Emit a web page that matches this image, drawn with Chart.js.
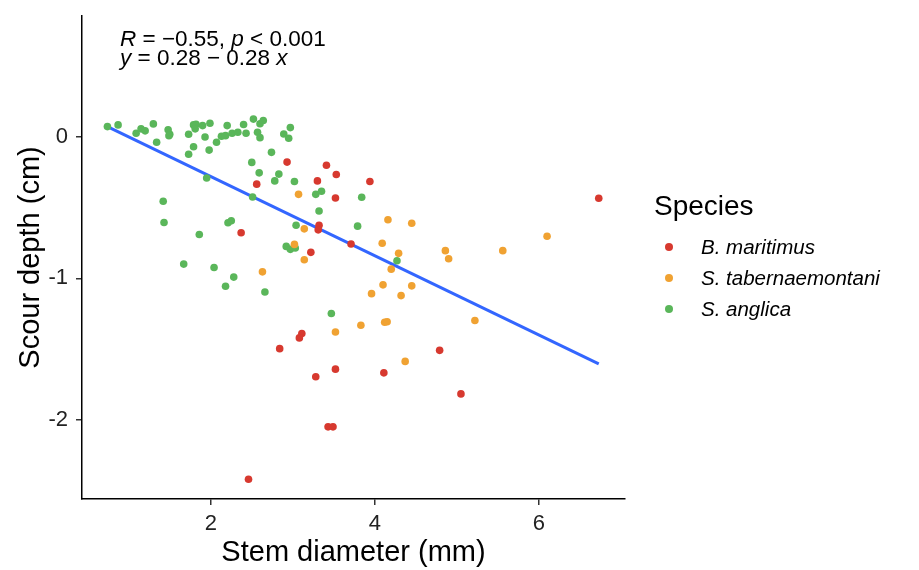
<!DOCTYPE html>
<html>
<head>
<meta charset="utf-8">
<script src="https://cdn.jsdelivr.net/npm/chart.js@4.4.1/dist/chart.umd.min.js"></script>
<style>
  body { margin: 0; background: #fff; }
  #wrap { width: 919px; height: 570px; }
</style>
</head>
<body>
<div id="wrap"><canvas id="scour" width="919" height="570"></canvas></div>
<script>
// species and colours
const speciesNames = ["B. maritimus", "S. tabernaemontani", "S. anglica"];
const speciesColors = ["#D7392F", "#F0A232", "#5AB65A"];

// stem diameter (mm) / scour depth (cm)
const maritimusX = [2.93, 2.56, 2.37, 3.41, 3.53, 3.30, 3.94, 3.52, 3.32, 3.31, 3.71, 3.22,
  3.11, 3.08, 2.84, 3.52, 3.28, 4.11, 4.79, 5.05, 3.43, 3.49, 2.46, 6.73];
const maritimusY = [-0.178, -0.334, -0.678, -0.20, -0.266, -0.311, -0.315, -0.432, -0.624, -0.657, -0.757, -0.816,
  -1.39, -1.421, -1.497, -1.642, -1.696, -1.668, -1.509, -1.817, -2.05, -2.05, -2.42, -0.434];

const tabernaeX = [3.07, 3.14, 3.02, 3.14, 2.63, 4.16, 4.45, 4.09, 4.29, 4.86, 4.90, 4.20,
  4.10, 4.45, 3.96, 4.32, 3.52, 3.83, 4.12, 4.15, 5.22, 4.37, 6.10, 5.56];
const tabernaeY = [-0.406, -0.65, -0.76, -0.868, -0.954, -0.586, -0.61, -0.752, -0.823, -0.804, -0.861, -0.935,
  -1.046, -1.053, -1.108, -1.122, -1.379, -1.331, -1.31, -1.307, -1.298, -1.587, -0.702, -0.804];

const anglicaX = [0.74, 0.87, 1.09, 1.15, 1.20, 1.30, 1.34, 1.48, 1.50, 1.49, 1.73, 1.79, 1.82, 1.81, 1.90,
  1.99, 1.93, 1.79, 1.73, 1.98, 2.07, 2.13, 2.18, 2.20, 2.26, 2.33, 2.40, 2.43, 2.52, 2.60, 2.64, 2.57,
  2.60, 2.74, 2.89, 2.95, 2.97, 2.50, 2.59, 2.83, 2.78, 3.02, 1.95, 2.51, 1.42,
  1.43, 1.86, 2.21, 2.25, 1.67, 2.04, 2.28, 2.18, 2.66, 3.04, 2.92, 2.97, 3.03,
  3.28, 3.35, 3.84, 3.32, 3.79, 4.27, 3.47];
const anglicaY = [0.073, 0.085, 0.026, 0.057, 0.043, 0.092, -0.038, 0.05, 0.019, 0.009, 0.019, 0.085, 0.09, 0.057, 0.08,
  0.097, 0.0, -0.069, -0.123, -0.093, -0.038, 0.005, 0.009, 0.08, 0.026, 0.033, 0.088, 0.026, 0.126, 0.093, 0.116, 0.033,
  -0.005, -0.109, 0.021, -0.009, 0.066, -0.18, -0.254, -0.263, -0.311, -0.315, -0.29, -0.425, -0.455,
  -0.605, -0.69, -0.607, -0.593, -0.899, -0.923, -0.991, -1.056, -1.096, -0.624, -0.774, -0.795, -0.785,
  -0.406, -0.384, -0.427, -0.524, -0.631, -0.875, -1.248];

// fitted line from the label
const fitIntercept = 0.28;
const fitSlope = -0.28;
const statR = "\u22120.55";
const statP = "0.001";

const xTicks = [2, 4, 6];
const yTicks = [0, -1, -2];

const toPoints = (xs, ys) => xs.map((x, i) => ({ x: x, y: ys[i] }));
const allX = maritimusX.concat(tabernaeX, anglicaX);
const xLo = Math.min(...allX), xHi = Math.max(...allX);
const fitLine = [xLo, xHi].map(x => ({ x: x, y: fitIntercept + fitSlope * x }));

const seriesPts = [toPoints(maritimusX, maritimusY), toPoints(tabernaeX, tabernaeY), toPoints(anglicaX, anglicaY)];

const datasets = seriesPts.map((pts, i) => ({
  type: 'scatter',
  label: speciesNames[i],
  data: pts,
  backgroundColor: speciesColors[i],
  borderWidth: 0,
  pointRadius: 3.8,
  pointHoverRadius: 3.8
}));
datasets.push({
  type: 'line',
  label: 'fit',
  data: fitLine,
  borderColor: '#3366FF',
  borderWidth: 3,
  pointRadius: 0,
  fill: false
});

const FONT = "'Liberation Sans', Arial, sans-serif";

function drawRuns(ctx, runs, x, y, size) {
  runs.forEach(([txt, it]) => {
    ctx.font = (it ? 'italic ' : '') + size + 'px ' + FONT;
    ctx.fillText(txt, x, y);
    x += ctx.measureText(txt).width;
  });
}

const decor = {
  id: 'decor',
  afterDraw(chart) {
    const ctx = chart.ctx;
    const area = chart.chartArea;
    ctx.save();
    ctx.fillStyle = '#000';
    ctx.textBaseline = 'alphabetic';
    ctx.textAlign = 'left';

    // stat label
    drawRuns(ctx, [['R', true], [' = ' + statR + ', ', false], ['p', true], [' < ' + statP, false]], 120, 46, 22.5);
    drawRuns(ctx, [['y', true], [' = ' + fitIntercept.toFixed(2) + ' \u2212 ' + Math.abs(fitSlope).toFixed(2) + ' ', false], ['x', true]], 120, 65, 22.5);

    // axis titles
    ctx.font = '29px ' + FONT;
    ctx.textAlign = 'center';
    ctx.fillText('Stem diameter (mm)', (area.left + area.right) / 2, 561);
    ctx.save();
    ctx.translate(39, (area.top + area.bottom) / 2);
    ctx.rotate(-Math.PI / 2);
    ctx.fillText('Scour depth (cm)', 0, 0);
    ctx.restore();

    // legend
    ctx.textAlign = 'left';
    ctx.font = '28px ' + FONT;
    ctx.fillText('Species', 654, 215);
    speciesNames.forEach((name, i) => {
      const cy = 247 + i * 31;
      ctx.beginPath();
      ctx.arc(669, cy, 4, 0, Math.PI * 2);
      ctx.fillStyle = speciesColors[i];
      ctx.fill();
      ctx.fillStyle = '#000';
      ctx.font = 'italic 20.5px ' + FONT;
      ctx.textBaseline = 'middle';
      ctx.fillText(name, 701, cy + 1);
      ctx.textBaseline = 'alphabetic';
    });
    ctx.restore();
  }
};

new Chart(document.getElementById('scour').getContext('2d'), {
  data: { datasets: datasets },
  options: {
    responsive: false,
    animation: false,
    layout: { padding: { top: 16, right: 294, bottom: 0, left: 0 } },
    plugins: { legend: { display: false }, tooltip: { enabled: false } },
    scales: {
      x: {
        type: 'linear',
        min: 0.43,
        max: 7.05,
        afterFit(scale) { scale.height = 71; scale.paddingLeft = 0; scale.paddingRight = 0; },
        afterBuildTicks(scale) { scale.ticks = xTicks.map(v => ({ value: v })); },
        grid: { drawOnChartArea: false, drawTicks: true, tickLength: 6, color: '#333', lineWidth: 1.5 },
        border: { display: true, color: '#000', width: 1.5 },
        ticks: { color: '#222', font: { family: FONT, size: 22 }, padding: 6, maxRotation: 0 }
      },
      y: {
        type: 'linear',
        min: -2.56,
        max: 0.855,
        afterFit(scale) { scale.width = 82; scale.paddingTop = 0; scale.paddingBottom = 0; },
        afterBuildTicks(scale) { scale.ticks = yTicks.map(v => ({ value: v })); },
        grid: { drawOnChartArea: false, drawTicks: true, tickLength: 6, color: '#333', lineWidth: 1.5 },
        border: { display: true, color: '#000', width: 1.5 },
        ticks: { color: '#222', font: { family: FONT, size: 22 }, padding: 8, callback: v => String(v) }
      }
    }
  },
  plugins: [decor]
});
</script>
</body>
</html>
